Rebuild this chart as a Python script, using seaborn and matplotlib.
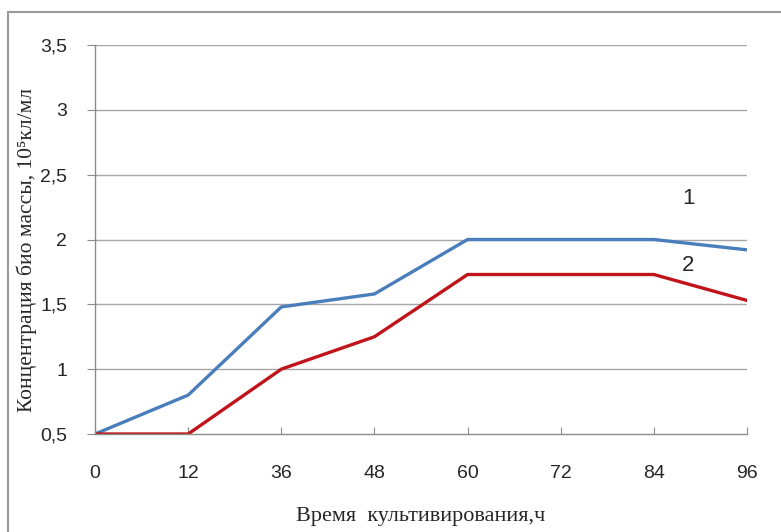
import matplotlib
matplotlib.use("Agg")
import matplotlib.pyplot as plt
import seaborn as sns
import pandas as pd
from matplotlib.patches import Rectangle

hours = ["0", "12", "36", "48", "60", "72", "84", "96"]
series1 = [0.5, 0.8, 1.48, 1.58, 2.0, 2.0, 2.0, 1.92]
series2 = [0.5, 0.5, 1.0, 1.25, 1.73, 1.73, 1.73, 1.53]
yticks = [0.5, 1, 1.5, 2, 2.5, 3, 3.5]
ytick_labels = ["0,5", "1", "1,5", "2", "2,5", "3", "3,5"]

df = pd.DataFrame({
    "hour": hours * 2,
    "value": series1 + series2,
    "series": ["1"] * len(hours) + ["2"] * len(hours),
})

sns.set_style("white")
plt.rcParams['font.family'] = ['Liberation Sans', 'DejaVu Sans']

fig = plt.figure(figsize=(7.81, 5.32), dpi=100)
ax = fig.add_axes([95/781, 1-434/532, (747-95)/781, (434-45)/532])

# chart border
fig.patches.append(Rectangle((8/781, -0.05), 1.2, 1-12/532+0.05, transform=fig.transFigure,
                             fill=False, edgecolor="#9a9a9a", linewidth=1.5))

sns.lineplot(data=df, x="hour", y="value", hue="series", sort=False,
             palette={"1": "#4A7EBB", "2": "#C0141A"}, linewidth=2.4,
             legend=False, ax=ax)

ax.set_ylim(0.5, 3.5)
ax.set_xlim(0, len(hours) - 1)
ax.set_yticks(yticks)
ax.set_yticklabels(ytick_labels)
ax.set_xticks(range(len(hours)))
ax.set_xticklabels(hours)
for y in yticks[1:]:
    ax.axhline(y, color="#a6a6a6", linewidth=1.0, zorder=0)

for s in ["top", "right"]:
    ax.spines[s].set_visible(False)
for s in ["left", "bottom"]:
    ax.spines[s].set_color("#8c8c8c")
    ax.spines[s].set_linewidth(1.0)

ax.tick_params(axis="y", which="major", direction="out", length=6, color="#8c8c8c",
               labelsize=14, pad=14)
ax.tick_params(axis="x", which="major", direction="in", length=5, color="#8c8c8c",
               labelsize=14, pad=22)
ax.tick_params(left=True, bottom=True)

ax.set_xlabel("Время  культивирования,ч", family=["Liberation Serif", "DejaVu Serif"],
              fontsize=16, labelpad=18)
ax.set_ylabel("Концентрация био массы, 10⁵кл/мл", family=["Liberation Serif", "DejaVu Serif"],
              fontsize=15.5)
ax.yaxis.set_label_coords(-0.089, 0.473)

ax.text(6.37, 2.32, "1", fontsize=16, ha="center", va="center")
ax.text(6.37, 1.80, "2", fontsize=16, ha="center", va="center")

fig.savefig("out.png", dpi=100)
